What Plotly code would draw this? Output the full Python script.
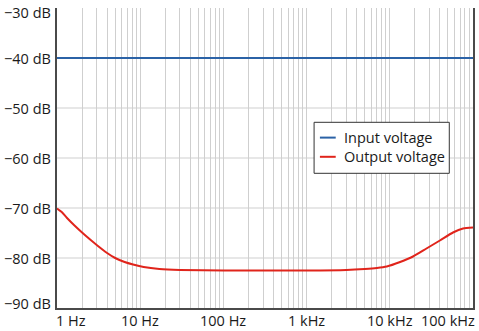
import numpy as np
import plotly.graph_objects as go

# Frequency response data (Hz, dB)
input_freq = [1, 100000]
input_db = [-40, -40]

output_freq = [1, 1.14, 1.32, 1.6, 2.0, 2.5, 3.0, 4.0, 5.0, 6.5, 8.2, 11, 17, 30, 100,
               1000, 3000, 5000, 7000, 9200, 13300, 19000, 27600, 40000, 57500, 76000, 100000]
output_db = [-70.1, -70.8, -72.0, -73.4, -74.9, -76.3, -77.4, -79.0, -80.0, -80.8, -81.3,
             -81.8, -82.2, -82.4, -82.5, -82.5, -82.4, -82.2, -82.0, -81.7, -80.8, -79.7,
             -78.1, -76.5, -74.9, -74.1, -73.9]

series_names = ["Input voltage", "Output voltage"]
series_colors = ["#2b62a6", "#e0241b"]

y_ticks = [-90, -80, -70, -60, -50, -40, -30]
y_labels = ["\u221290 dB", "\u221280 dB", "\u221270 dB", "\u221260 dB",
            "\u221250 dB", "\u221240 dB", "\u221230 dB"]
x_label_freqs = [1, 10, 100, 1000, 10000, 100000]
x_labels = ["1 Hz", "10 Hz", "100 Hz", "1 kHz", "10 kHz", "100 kHz"]

FONT = "Open Sans"
FSIZE = 14.5
TEXT = "#1a1a1a"
GRID = "#cfcfcf"
AXIS = "#4a4a4a"

# vertical grid at 1..9 per decade
grid_x = [m * 10 ** d for d in range(5) for m in range(1, 10)] + [100000]

fig = go.Figure()
fig.add_trace(go.Scatter(x=input_freq, y=input_db, mode="lines", name=series_names[0],
                         line=dict(color=series_colors[0], width=2), showlegend=False))
fig.add_trace(go.Scatter(x=output_freq, y=output_db, mode="lines", name=series_names[1],
                         line=dict(color=series_colors[1], width=2, shape="spline", smoothing=0.6),
                         showlegend=False))

# horizontal grid lines (top edge left open)
for v in y_ticks[1:-1]:
    fig.add_shape(type="line", xref="paper", yref="y", x0=0, x1=1, y0=v, y1=v,
                  line=dict(color=GRID, width=1), layer="below")

# level labels on the left, the outer two nudged inward so they stay in view
for i, (v, t) in enumerate(zip(y_ticks, y_labels)):
    shift = 5 if i == 0 else (-4 if i == len(y_ticks) - 1 else 0)
    fig.add_annotation(x=0, y=v, xref="paper", yref="y", text=t, showarrow=False,
                       xanchor="right", yanchor="middle", xshift=-4, yshift=shift,
                       font=dict(family=FONT, size=FSIZE, color=TEXT))

# decade labels along the bottom, the outer two kept inside the plot width
for i, (f, t) in enumerate(zip(x_label_freqs, x_labels)):
    anchor = "left" if i == 0 else ("right" if i == len(x_labels) - 1 else "center")
    fig.add_annotation(x=np.log10(f), y=0, xref="x", yref="paper", text=t,
                       showarrow=False, xanchor=anchor, yanchor="top", yshift=-1,
                       xshift=(-3 if i == 0 else (4 if i == len(x_labels) - 1 else 0)),
                       font=dict(family=FONT, size=FSIZE, color=TEXT))

# boxed legend with short line keys
fig.add_shape(type="rect", xref="paper", yref="paper", x0=0.618, x1=0.943, y0=0.449, y1=0.619,
              line=dict(color="#333333", width=1), fillcolor="white", layer="above")
for name, color, yy in zip(series_names, series_colors, [0.568, 0.504]):
    fig.add_shape(type="line", xref="paper", yref="paper", x0=0.632, x1=0.670, y0=yy, y1=yy,
                  line=dict(color=color, width=2), layer="above")
    fig.add_annotation(x=0.686, y=yy, xref="paper", yref="paper", text=name, showarrow=False,
                       xanchor="left", yanchor="middle",
                       font=dict(family=FONT, size=FSIZE, color=TEXT))

fig.update_xaxes(type="log", range=[0, 5], tickvals=grid_x, showticklabels=False,
                 showgrid=True, gridcolor=GRID, gridwidth=1, ticks="", automargin=False,
                 showline=True, linecolor=AXIS, linewidth=2, mirror=False, zeroline=False)
fig.update_yaxes(range=[-90, -30], tickvals=y_ticks, showticklabels=False, showgrid=False,
                 ticks="", automargin=False, showline=True, linecolor=AXIS, linewidth=2,
                 mirror=True, zeroline=False)

fig.update_layout(
    width=479, height=331,
    margin=dict(l=57, r=6, t=8, b=23, autoexpand=False),
    plot_bgcolor="white", paper_bgcolor="white",
    font=dict(family=FONT, size=FSIZE, color=TEXT),
    showlegend=False,
)

fig.write_html("out.html")
